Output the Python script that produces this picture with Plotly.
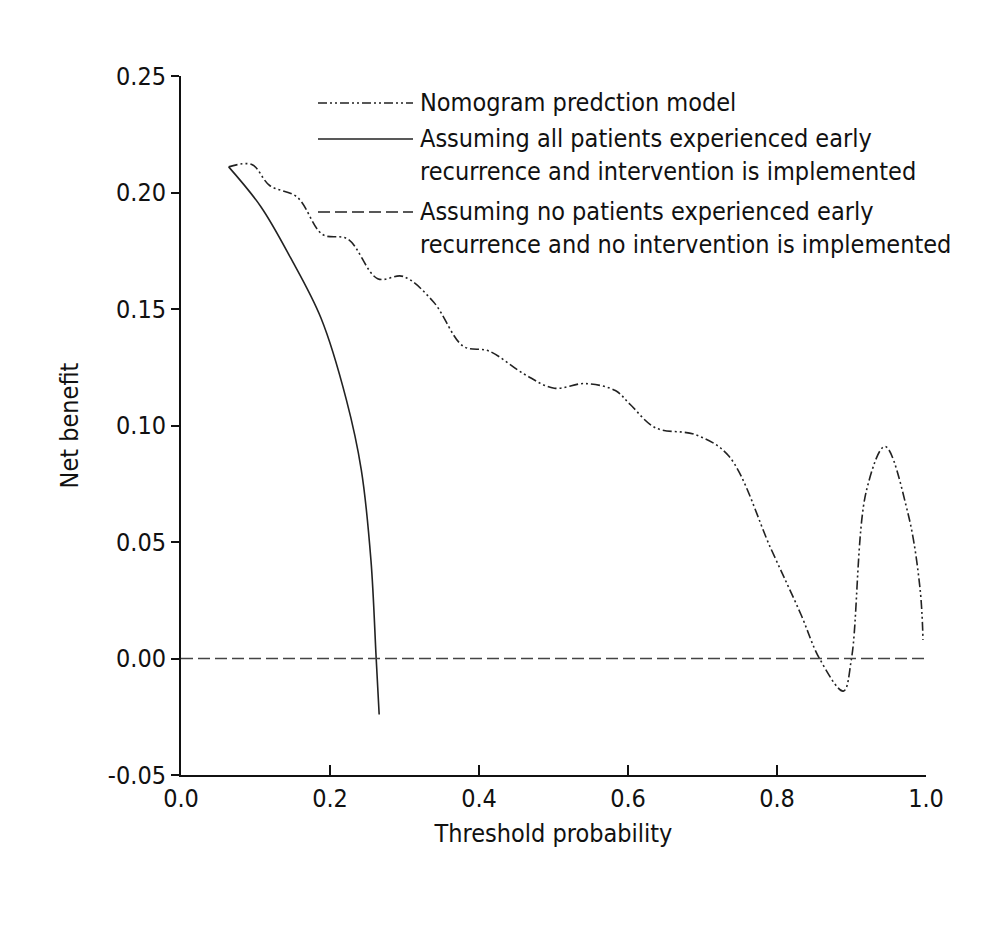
import plotly.graph_objects as go

# Decision curve values
nomo_x = [0.064, 0.095, 0.119, 0.156, 0.190, 0.224, 0.264, 0.298, 0.339, 0.379, 0.413,
          0.461, 0.501, 0.542, 0.583, 0.603, 0.637, 0.691, 0.735, 0.792, 0.832, 0.857,
          0.889, 0.900, 0.920, 0.945, 0.976, 0.992, 0.996]
nomo_y = [0.211, 0.212, 0.203, 0.198, 0.182, 0.180, 0.163, 0.164, 0.153, 0.134, 0.132,
          0.122, 0.116, 0.118, 0.115, 0.109, 0.099, 0.096, 0.087, 0.047, 0.019, 0.000,
          -0.014, 0.000, 0.072, 0.091, 0.062, 0.030, 0.008]
all_x = [0.064, 0.107, 0.147, 0.188, 0.222, 0.242, 0.255, 0.262, 0.266]
all_y = [0.211, 0.194, 0.172, 0.146, 0.111, 0.081, 0.042, 0.000, -0.024]
none_x = [0.0, 1.0]
none_y = [0.0, 0.0]

legend_labels = [
    "Nomogram predction model",
    "Assuming all patients experienced early<br>recurrence and intervention is implemented",
    "Assuming no patients experienced early<br>recurrence and no intervention is implemented",
]

FONT = "DejaVu Sans Condensed, Liberation Sans Narrow, sans-serif"
nomo_dash = "9px,3px,2px,3px,2px,3px"
none_dash = "12px,5px"

fig = go.Figure()
fig.add_trace(go.Scatter(x=nomo_x, y=nomo_y, mode="lines", line=dict(color="#222", width=1.6, dash=nomo_dash, shape="spline")))
fig.add_trace(go.Scatter(x=all_x, y=all_y, mode="lines", line=dict(color="#222", width=1.6, shape="spline")))
fig.add_trace(go.Scatter(x=none_x, y=none_y, mode="lines", line=dict(color="#444", width=1.6, dash=none_dash)))

# hand-made legend (line samples + text)
W, H = 1000, 933
l, r, t, b = 173, 82, 68, 166
pw, ph = W - l - r, H - t - b
def px(x): return (x - l) / pw
def py(y): return 1 - (y - t) / ph
rows = [95, 131, 204]
dashes = [nomo_dash, "solid", none_dash]
for yy, lab, d in zip(rows, legend_labels, dashes):
    fig.add_shape(type="line", xref="paper", yref="paper", x0=px(310), x1=px(405), y0=py(yy), y1=py(yy),
                  line=dict(color="#222", width=1.6, dash=d))
    fig.add_annotation(xref="paper", yref="paper", x=px(410), y=py(yy - 17), text=lab, showarrow=False,
                       xanchor="left", yanchor="top", align="left", font=dict(size=25, color="#111", family=FONT))

fig.update_layout(
    width=W, height=H, margin=dict(l=l, r=r, t=t, b=b),
    plot_bgcolor="white", paper_bgcolor="white", showlegend=False,
    font=dict(family=FONT, size=25, color="#111"),
)
fig.update_xaxes(range=[0, 1], tickvals=[0, 0.2, 0.4, 0.6, 0.8, 1.0], ticktext=["0.0", "0.2", "0.4", "0.6", "0.8", "1.0"],
                 showgrid=False, zeroline=False, showline=True, linecolor="#111", linewidth=2,
                 ticks="inside", ticklen=10, tickwidth=1.5, tickcolor="#111", tickfont=dict(size=25),
                 title=dict(text="Threshold probability", standoff=12, font=dict(size=25)))
fig.update_yaxes(range=[-0.05, 0.25], tickvals=[-0.05, 0, 0.05, 0.1, 0.15, 0.2, 0.25],
                 ticktext=["-0.05", "0.00", "0.05", "0.10", "0.15", "0.20", "0.25"],
                 showgrid=False, zeroline=False, showline=True, linecolor="#111", linewidth=2,
                 ticks="outside", ticklen=8, tickwidth=1.5, tickcolor="#111", tickfont=dict(size=25),
                 title=dict(text="Net benefit", standoff=22, font=dict(size=25)))
fig.write_html("out.html")
